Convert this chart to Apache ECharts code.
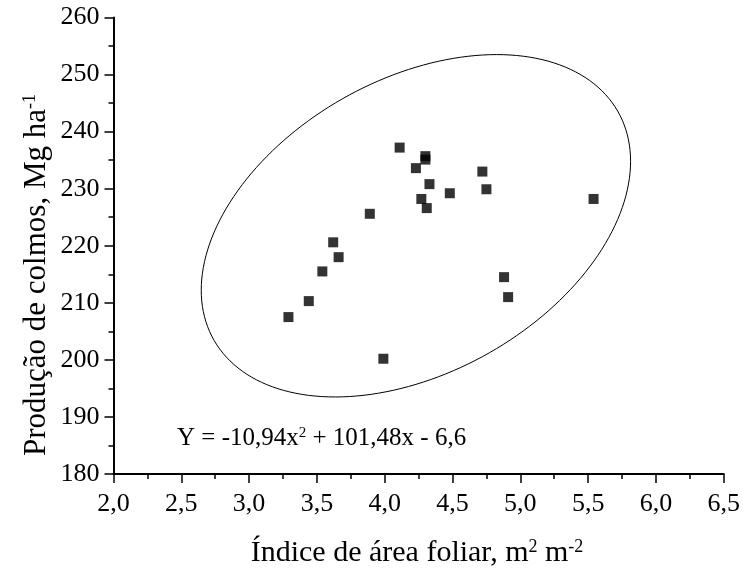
<!DOCTYPE html>
<html><head><meta charset="utf-8">
<script src="https://cdn.jsdelivr.net/npm/echarts@6/dist/echarts.min.js"></script>
<style>html,body{margin:0;padding:0;background:#fff}#c{width:743px;height:574px}</style>
</head><body><div id="c"></div>
<script>
// Data
const leafAreaIndex = [4.11, 4.30, 4.30, 4.23, 4.72, 4.33, 4.48, 4.75, 4.27, 4.31, 3.89, 3.62, 3.66, 3.54, 3.44, 3.29, 4.88, 4.91, 5.54, 3.99];
const stalkYield   = [237.2, 235.7, 235.1, 233.6, 233.0, 230.8, 229.2, 229.9, 228.2, 226.6, 225.6, 220.6, 218.0, 215.5, 210.3, 207.5, 214.5, 211.0, 228.2, 200.2];
// Confidence ellipse (data units): center, semi-extent in x and y, phase of y component (deg)
const ellipseCenter = [4.23, 223.5];
const ellipseExtent = [1.583, 30.0];
const ellipsePhaseDeg = 67.9;
const xRange = [2.0, 6.5];
const yRange = [180, 260];
const equationText = ['Y = -10,94x', '2', ' + 101,48x - 6,6'];

const FONT = '"Liberation Serif", "Times New Roman", serif';
const scatterData = leafAreaIndex.map((x, i) => [x, stalkYield[i]]);
const ellipseData = [];
for (let d = 0; d <= 360; d += 2) {
  const t = d * Math.PI / 180;
  ellipseData.push([
    ellipseCenter[0] + ellipseExtent[0] * Math.cos(t),
    ellipseCenter[1] + ellipseExtent[1] * Math.cos(t + ellipsePhaseDeg * Math.PI / 180)
  ]);
}

const chart = echarts.init(document.getElementById('c'), null, {renderer: 'canvas'});
chart.setOption({
  animation: false,
  backgroundColor: '#fff',
  grid: {left: 113.5, right: 19, top: 17.5, bottom: 100},
  xAxis: {
    type: 'value', min: xRange[0], max: xRange[1], interval: 0.5,
    axisLine: {show: true, onZero: false, lineStyle: {color: '#000', width: 2}},
    axisTick: {show: true, length: 9, lineStyle: {color: '#000', width: 1.5}},
    minorTick: {show: true, splitNumber: 2, length: 5, lineStyle: {color: '#000', width: 1.5}},
    splitLine: {show: false},
    axisLabel: {color: '#000', fontFamily: FONT, fontSize: 26, margin: 17,
      formatter: v => v.toFixed(1).replace('.', ',')}
  },
  yAxis: {
    type: 'value', min: yRange[0], max: yRange[1], interval: 10,
    axisLine: {show: true, onZero: false, lineStyle: {color: '#000', width: 2}},
    axisTick: {show: true, length: 9, lineStyle: {color: '#000', width: 1.5}},
    minorTick: {show: true, splitNumber: 2, length: 5, lineStyle: {color: '#000', width: 1.5}},
    splitLine: {show: false},
    axisLabel: {color: '#000', fontFamily: FONT, fontSize: 26, margin: 14,
      formatter: v => String(v)}
  },
  series: [
    {
      type: 'line', data: ellipseData, showSymbol: false, symbol: 'none', smooth: false,
      lineStyle: {color: '#000', width: 1}, silent: true, z: 1
    },
    {
      type: 'scatter', data: scatterData, symbol: 'rect', symbolSize: 10,
      itemStyle: {color: '#000'}, z: 2
    }
  ],
  graphic: [
    {
      type: 'text', x: 177, y: 438,
      style: {
        text: '{m|' + equationText[0] + '}{s|' + equationText[1] + '}{m|' + equationText[2] + '}',
        verticalAlign: 'middle', align: 'left',
        rich: {
          m: {fontFamily: FONT, fontSize: 25, fill: '#000', color: '#000'},
          s: {fontFamily: FONT, fontSize: 15, fill: '#000', color: '#000', verticalAlign: 'top', lineHeight: 14}
        }
      }
    },
    {
      type: 'text', x: 417, y: 553,
      style: {
        text: '{m|Índice de área foliar, m}{s|2}{m| m}{s|-2}',
        verticalAlign: 'middle', align: 'center',
        rich: {
          m: {fontFamily: FONT, fontSize: 30, fill: '#000', color: '#000'},
          s: {fontFamily: FONT, fontSize: 18, fill: '#000', color: '#000', verticalAlign: 'top', lineHeight: 16}
        }
      }
    },
    {
      type: 'text', x: 37, y: 275, rotation: Math.PI / 2,
      style: {
        text: '{m|Produção de colmos, Mg ha}{s|-1}',
        verticalAlign: 'middle', align: 'center',
        rich: {
          m: {fontFamily: FONT, fontSize: 31, fill: '#000', color: '#000'},
          s: {fontFamily: FONT, fontSize: 18, fill: '#000', color: '#000', verticalAlign: 'top', lineHeight: 16}
        }
      }
    }
  ]
});
</script>
</body></html>
